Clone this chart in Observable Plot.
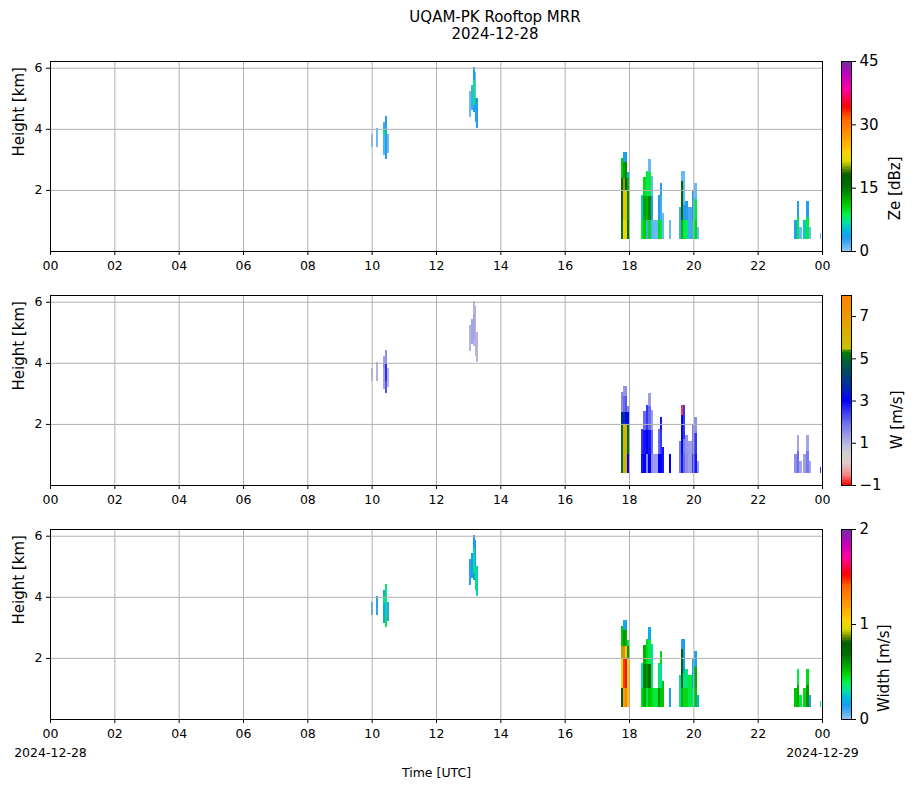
<!DOCTYPE html>
<html>
<head>
<meta charset="utf-8">
<script src="https://cdn.jsdelivr.net/npm/d3@7"></script>
<script src="https://cdn.jsdelivr.net/npm/@observablehq/plot@0.6"></script>
<style>
  html, body { margin: 0; padding: 0; background: #fff; }
  #root { position: relative; width: 914px; height: 788px; font-family: "DejaVu Sans", sans-serif; }
  .abs { position: absolute; }
  #title { position: absolute; left: 395px; width: 200px; top: 9px; text-align: center; font-size: 15px; line-height: 17px; color: #000; }
</style>
</head>
<body>
<div id="root">
  <div id="title">UQAM-PK Rooftop MRR<br>2024-12-28</div>
</div>
<script>
// ---------------- data ----------------
// cells: [startHour, endHour, bottomKm, topKm, Ze dBZ, W m/s, spectral width m/s]
const cells10 = [
  [9.98, 10.04, 3.42, 3.83, 1, 0.9, 0.12],
  [10.13, 10.19, 3.42, 4.03, 1, 1.0, 0.12],
  [10.36, 10.42, 3.14, 3.80, 1.5, 1.2, 0.15],
  [10.36, 10.42, 3.80, 3.96, 8, 1.5, 0.35],
  [10.36, 10.42, 3.96, 4.23, 2, 1.2, 0.15],
  [10.42, 10.48, 3.00, 3.40, 3, 2.2, 0.40],
  [10.42, 10.48, 3.40, 4.00, 4, 2.6, 0.30],
  [10.42, 10.48, 4.00, 4.42, 3, 1.5, 0.35],
  [10.48, 10.54, 3.22, 3.83, 1, 1.0, 0.12]
];
const cells13 = [
  [13.03, 13.09, 4.40, 5.24, 1, 1.0, 0.12],
  [13.09, 13.15, 4.60, 5.43, 2, 1.2, 0.14],
  [13.15, 13.20, 4.56, 4.78, 3, 1.0, 0.14],
  [13.15, 13.20, 4.78, 5.60, 8, 1.2, 0.30],
  [13.15, 13.20, 5.60, 6.01, 3, 1.0, 0.14],
  [13.20, 13.25, 4.23, 5.00, 4, 1.0, 0.38],
  [13.20, 13.25, 5.00, 5.85, 1, 1.0, 0.14],
  [13.25, 13.30, 4.02, 5.00, 3, 1.0, 0.28]
];
const cells18 = [
  [17.75, 17.80, 0.39, 1.00, 15, 5.0, 0.80],
  [17.75, 17.80, 1.00, 2.00, 17, 5.0, 1.00],
  [17.75, 17.80, 2.00, 2.40, 16, 3.5, 0.90],
  [17.75, 17.80, 2.40, 3.03, 11, 1.6, 0.50],
  [17.80, 17.87, 0.39, 1.00, 23, 5.9, 1.20],
  [17.80, 17.87, 1.00, 2.00, 25, 6.0, 1.45],
  [17.80, 17.87, 2.00, 2.40, 20, 4.0, 1.30],
  [17.80, 17.87, 2.40, 2.90, 13, 2.0, 0.60],
  [17.80, 17.87, 2.90, 3.24, 4, 1.4, 0.20],
  [17.87, 17.93, 0.39, 1.00, 22, 6.0, 1.30],
  [17.87, 17.93, 1.00, 2.00, 21, 5.8, 1.50],
  [17.87, 17.93, 2.00, 2.40, 18, 3.0, 1.00],
  [17.87, 17.93, 2.40, 2.90, 14, 2.2, 0.55],
  [17.87, 17.93, 2.90, 3.24, 3, 1.5, 0.15],
  [17.93, 18.00, 0.39, 1.00, 16, 3.0, 1.10],
  [17.93, 18.00, 1.00, 2.00, 14, 5.0, 0.95],
  [17.93, 18.00, 2.00, 2.40, 12, 3.2, 0.60],
  [17.93, 18.00, 2.40, 2.60, 5, 1.7, 0.40]
];
const cells19 = [
  [18.37, 18.44, 0.39, 1.00, 9, 2.8, 0.45],
  [18.37, 18.44, 1.00, 1.83, 6, 2.5, 0.30],
  [18.44, 18.52, 0.39, 1.00, 11, 3.0, 0.55],
  [18.44, 18.52, 1.00, 1.80, 13, 2.8, 0.65],
  [18.44, 18.52, 1.80, 2.43, 10, 2.0, 0.55],
  [18.52, 18.60, 0.39, 1.00, 2, 1.5, 0.40],
  [18.52, 18.60, 1.00, 1.80, 12, 3.0, 0.60],
  [18.52, 18.60, 1.80, 2.62, 9, 2.5, 0.45],
  [18.60, 18.68, 0.39, 1.00, 10, 3.0, 0.50],
  [18.60, 18.68, 1.00, 1.80, 14, 2.8, 0.70],
  [18.60, 18.68, 1.80, 2.60, 9, 2.0, 0.40],
  [18.60, 18.68, 2.60, 3.01, 1, 1.3, 0.20],
  [18.68, 18.76, 0.39, 1.00, 1.5, 1.5, 0.45],
  [18.68, 18.76, 1.00, 1.80, 3, 2.0, 0.35],
  [18.68, 18.76, 1.80, 2.45, 1, 1.3, 0.30],
  [18.76, 18.89, 0.39, 1.00, 1, 1.3, 0.40],
  [18.89, 18.96, 0.39, 1.00, 10, 3.0, 0.60],
  [18.89, 18.96, 1.00, 1.83, 3, 2.0, 0.35],
  [18.96, 19.04, 0.39, 1.00, 9, 3.0, 0.50],
  [18.96, 19.04, 1.00, 1.80, 2, 2.5, 0.30],
  [18.96, 19.04, 1.80, 2.21, 3, 2.8, 0.45],
  [19.04, 19.10, 0.39, 1.23, 1, 2.8, 0.50],
  [19.24, 19.31, 0.39, 1.00, 1, 3.0, 0.15]
];
const cells20 = [
  [19.555, 19.62, 0.39, 1.45, 2, 1.8, 0.30],
  [19.62, 19.67, 0.39, 1.00, 12, 2.8, 0.55],
  [19.62, 19.67, 1.00, 2.30, 16, 3.2, 0.75],
  [19.62, 19.67, 2.30, 2.62, 1, -0.8, 0.12],
  [19.67, 19.74, 0.39, 1.00, 9, 2.0, 0.45],
  [19.67, 19.74, 1.00, 1.50, 3, 1.8, 0.30],
  [19.67, 19.74, 1.50, 2.62, 1, 2.5, 0.15],
  [19.74, 19.84, 0.39, 1.00, 8, 1.5, 0.45],
  [19.74, 19.84, 1.00, 1.64, 3, 1.4, 0.35],
  [19.84, 19.95, 0.39, 1.45, 2, 1.3, 0.40],
  [19.95, 20.03, 0.39, 1.00, 6, 2.5, 0.30],
  [19.95, 20.03, 1.00, 2.00, 3, 1.8, 0.20],
  [20.03, 20.10, 0.39, 1.00, 10, 2.8, 0.50],
  [20.03, 20.10, 1.00, 1.70, 9, 2.5, 0.55],
  [20.03, 20.10, 1.70, 2.21, 1, 1.5, 0.15],
  [20.10, 20.18, 0.39, 0.80, 1, 1.3, 0.20]
];
const cells23 = [
  [23.13, 23.21, 0.39, 1.00, 3, 1.5, 0.50],
  [23.21, 23.28, 0.39, 1.10, 9, 2.0, 0.55],
  [23.21, 23.28, 1.10, 1.64, 3, 1.2, 0.40],
  [23.28, 23.37, 0.39, 0.80, 1, 1.2, 0.40],
  [23.40, 23.49, 0.39, 1.00, 6, 1.3, 0.45],
  [23.49, 23.60, 0.39, 1.10, 9, 1.8, 0.60],
  [23.49, 23.60, 1.10, 1.64, 3, 1.2, 0.45],
  [23.60, 23.65, 0.39, 0.80, 1, 1.2, 0.15],
  [23.93, 23.96, 0.39, 0.60, 1, 2.5, 0.30]
];

const hourTicks = [0, 2, 4, 6, 8, 10, 12, 14, 16, 18, 20, 22, 24];
const heightTicks = [2, 4, 6];
const dayLabels = ["2024-12-28", "2024-12-29"];

// colormaps
const rainbowStops = [0, 0.03, 0.07, 0.11, 0.15, 0.19, 0.24, 0.29, 0.34, 0.40, 0.44, 0.47, 0.52, 0.60, 0.70, 0.76, 0.85, 0.93, 1];
const rainbowColors = ["#90c8f8", "#5ab4f4", "#1e9bf0", "#00b8e0", "#00e0a0", "#00f050", "#00d000", "#00a000", "#007000", "#005e00", "#7a9a00", "#d8d800", "#ffd000", "#ff9c00", "#ff6400", "#ff0000", "#ff00a0", "#c000c0", "#7030a0"];
const wStops = [-1, -0.5, 0, 0.5, 1, 2, 3, 3.6, 4.2, 4.8, 5.3, 5.45, 6.5, 8];
const wColors = ["#ff0000", "#f08888", "#e0c8c8", "#d0d0d0", "#b4b4e4", "#6a6af0", "#0000ff", "#0028b0", "#004070", "#005a40", "#008000", "#c8c000", "#e0a800", "#ff8000"];

const panels = [
  {field: 4, min: 0, max: 45, stops: rainbowStops.map(s => s * 45), colors: rainbowColors, ticks: [0, 15, 30, 45], label: "Ze [dBz]", labelDx: 44, top: 51},
  {field: 5, min: -1, max: 8, stops: wStops, colors: wColors, ticks: [-1, 1, 3, 5, 7], label: "W [m/s]", labelDx: 46, top: 285},
  {field: 6, min: 0, max: 2, stops: rainbowStops.map(s => s * 2), colors: rainbowColors, ticks: [0, 1, 2], label: "Width [m/s]", labelDx: 33, top: 519}
];

// ---------------- drawing ----------------
const allCells = [...cells10, ...cells13, ...cells18, ...cells19, ...cells20, ...cells23];
const day0 = Date.UTC(2024, 11, 28);
const dt = h => new Date(day0 + h * 3600e3);
const root = document.getElementById("root");
const FONT = "DejaVu Sans";
const intFmt = d3.format("d");

panels.forEach((p, i) => {
  const last = i === panels.length - 1;
  const colorOpts = {type: "linear", domain: p.stops, range: p.colors, clamp: true};
  const marks = [
    Plot.rect(allCells, {
      x1: d => dt(d[0]), x2: d => dt(d[1]), y1: d => d[2], y2: d => d[3],
      fill: d => d[p.field], shapeRendering: "crispEdges"
    }),
    Plot.gridX(hourTicks.map(dt), {stroke: "#b0b0b0", strokeOpacity: 1, strokeWidth: 1}),
    Plot.gridY(heightTicks, {stroke: "#b0b0b0", strokeOpacity: 1, strokeWidth: 1}),
    Plot.frame({stroke: "black", strokeWidth: 1}),
    Plot.axisX(hourTicks.map(dt), {tickFormat: d3.utcFormat("%H"), tickSize: 4, tickPadding: 6, fontSize: 12.5, label: null}),
    Plot.axisY(heightTicks, {tickSize: 4, tickPadding: 4, fontSize: 12.5, label: null}),
    Plot.text(["Height [km]"], {frameAnchor: "left", dx: -31, rotate: -90, fontSize: 15})
  ];
  if (last) {
    marks.push(Plot.text([{t: 0, s: dayLabels[0]}, {t: 24, s: dayLabels[1]}], {x: d => dt(d.t), text: "s", frameAnchor: "bottom", dy: 37, fontSize: 12.5}));
    marks.push(Plot.text(["Time [UTC]"], {frameAnchor: "bottom", dy: 57, fontSize: 12.5}));
  }
  const main = Plot.plot({
    width: 840, height: last ? 270 : 230,
    marginLeft: 50, marginRight: 18, marginTop: 10, marginBottom: last ? 70 : 30,
    style: {fontFamily: FONT, background: "transparent", overflow: "visible", color: "black"},
    x: {type: "utc", domain: [dt(0), dt(24)]},
    y: {domain: [0, 6.22]},
    color: colorOpts,
    marks
  });
  main.classList.add("abs");
  main.style.left = "0px";
  main.style.top = p.top + "px";
  root.appendChild(main);

  // colorbar
  const n = 120;
  const step = (p.max - p.min) / n;
  const bar = Plot.plot({
    width: 90, height: 230,
    marginLeft: 0, marginRight: 80, marginTop: 10, marginBottom: 30,
    style: {fontFamily: FONT, background: "transparent", overflow: "visible", color: "black"},
    y: {domain: [p.min, p.max]},
    color: colorOpts,
    marks: [
      Plot.rect(d3.range(n), {y1: k => p.min + k * step, y2: k => p.min + (k + 1) * step + step * 0.05, fill: k => p.min + (k + 0.5) * step, shapeRendering: "crispEdges"}),
      Plot.frame({stroke: "black", strokeWidth: 1}),
      Plot.axisY(p.ticks, {anchor: "right", tickSize: 4, tickPadding: 4, fontSize: 15, tickFormat: intFmt, label: null}),
      Plot.text([p.label], {frameAnchor: "right", dx: p.labelDx, rotate: -90, fontSize: 15})
    ]
  });
  bar.classList.add("abs");
  bar.style.left = "841px";
  bar.style.top = p.top + "px";
  root.appendChild(bar);
});
</script>
</body>
</html>
